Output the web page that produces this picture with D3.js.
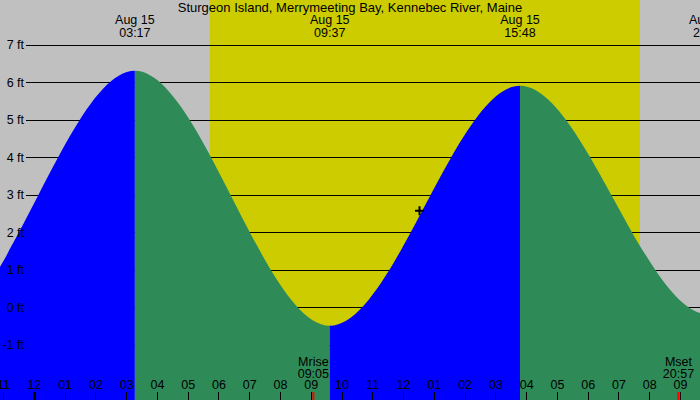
<!DOCTYPE html>
<html>
<head>
<meta charset="utf-8">
<script src="https://cdn.jsdelivr.net/npm/d3@7"></script>
<style>
body { margin: 0; background: #c0c0c0 }
svg { display: block }
</style>
</head>
<body>
<script>
let title = 'Sturgeon Island, Merrymeeting Bay, Kennebec River, Maine'
// tide extremes (first and last lie outside the view)
let tide_times = ['2024-08-14 14:40', '2024-08-14 20:57', '2024-08-15 03:17', '2024-08-15 09:37', '2024-08-15 15:48', '2024-08-15 21:56', '2024-08-16 04:10']
let tide_heights = [5.9, -0.45, 6.3, -0.5, 5.9, -0.2, 6.2]
let sun_times = ['2024-08-15 05:43', '2024-08-15 19:42']
let moon_times = ['2024-08-15 09:05', '2024-08-15 20:57']
let moon_names = ['Mrise', 'Mset']
let height_ticks = [-1, 0, 1, 2, 3, 4, 5, 6, 7]
let view_times = ['2024-08-14 22:54', '2024-08-15 21:39']
let marker_time = '2024-08-15 12:32'
let marker_height = 2.57

let x_size = 700
let y_size = 400
let axis_x = 26
let font = "'Liberation Sans', Arial, sans-serif"
let font_size = 12.5
let night_color = '#c0c0c0'
let day_color = '#cccc00'
let rise_color = '#0000ff'
let fall_color = '#2e8b57'
let moon_color = '#ff0000'

let parse = d3.timeParse('%Y-%m-%d %H:%M')
let fmt_day = d3.timeFormat('%b %d')
let fmt_time = d3.timeFormat('%H:%M')
let fmt_hour = d3.timeFormat('%I')

let x = d3.scaleTime()
    .domain(view_times.map(parse))
    .range([0, x_size])
let y = d3.scaleLinear()
    .domain([0, 7])
    .range([307, 44.5])

let tides = tide_times.map((t, i) => ({time: parse(t), height: tide_heights[i]}))

function makeCanvas() {
    let svg = d3.select('body')
        .append('svg')
        .attr('width', x_size)
        .attr('height', y_size)
        .style('font-family', font)
        .style('font-size', font_size + 'px')
    svg.append('rect')
        .attr('width', x_size)
        .attr('height', y_size)
        .attr('fill', night_color)
    let sun = sun_times.map(parse)
    svg.append('rect')
        .attr('x', x(sun[0]))
        .attr('y', 0)
        .attr('width', x(sun[1]) - x(sun[0]))
        .attr('height', y_size)
        .attr('fill', day_color)
    return svg
}

function drawGrid(svg) {
    let grid = svg.append('g')
        .attr('transform', `translate(${axis_x},0)`)
        .call(d3.axisLeft(y)
            .tickValues(height_ticks)
            .tickSize(-(x_size - axis_x))
            .tickFormat(''))
    grid.select('.domain').remove()
    grid.selectAll('line')
        .attr('stroke', 'black')
        .attr('shape-rendering', 'crispEdges')
}

function drawTide(svg) {
    let area = d3.area()
        .x(d => x(d.time))
        .y0(y_size)
        .y1(d => y(d.height))
        .curve(d3.curveMonotoneX)
    let defs = svg.append('defs')
    let segments = d3.pairs(tides)
    segments.forEach((p, i) => {
        defs.append('clipPath')
            .attr('id', 'seg' + i)
            .append('rect')
            .attr('x', x(p[0].time))
            .attr('y', 0)
            .attr('width', x(p[1].time) - x(p[0].time))
            .attr('height', y_size)
    })
    svg.selectAll('path.tide')
        .data(segments)
        .enter()
        .append('path')
        .attr('class', 'tide')
        .attr('d', area(tides))
        .attr('clip-path', (d, i) => `url(#seg${i})`)
        .attr('fill', d => d[1].height > d[0].height ? rise_color : fall_color)
}

function drawLabels(svg) {
    svg.append('text')
        .attr('x', x_size / 2)
        .attr('y', 12)
        .attr('text-anchor', 'middle')
        .style('font-size', '13px')
        .text(title)
    // only label the extremes that fall inside the picture
    let shown = tides.filter(d => x(d.time) >= 0 && x(d.time) <= x_size)
    let events = svg.selectAll('g.event')
        .data(shown)
        .enter()
        .append('g')
        .attr('class', 'event')
        .attr('transform', d => `translate(${x(d.time)},0)`)
        .attr('text-anchor', 'middle')
    events.append('text')
        .attr('y', 24)
        .text(d => fmt_day(d.time))
    events.append('text')
        .attr('y', 36.5)
        .text(d => fmt_time(d.time))
    // the next low sits just past the right edge, its label is cut as in the original
    let next = tides.find(d => x(d.time) > x_size)
    let cut = svg.append('g')
        .attr('transform', `translate(${x(next.time)},0)`)
        .attr('text-anchor', 'middle')
    cut.append('text')
        .attr('y', 24)
        .text(fmt_day(next.time))
    cut.append('text')
        .attr('y', 36.5)
        .text(fmt_time(next.time))

    let labels = svg.append('g')
        .attr('transform', `translate(${axis_x},0)`)
        .call(d3.axisLeft(y)
            .tickValues(height_ticks)
            .tickSize(0)
            .tickPadding(2)
            .tickFormat(d => `${d} ft`))
    labels.select('.domain').remove()
    labels.attr('font-family', null).attr('font-size', null)

    let hours = svg.append('g')
        .attr('transform', `translate(0,${y_size})`)
        .call(d3.axisTop(x)
            .ticks(d3.timeHour.every(1))
            .tickSize(8)
            .tickPadding(3)
            .tickFormat(fmt_hour))
    hours.select('.domain').remove()
    hours.attr('font-family', null).attr('font-size', null)
    hours.selectAll('line')
        .attr('stroke', 'black')
        .attr('stroke-width', d => d.getHours() == 0 ? 3 : 1)
        .attr('shape-rendering', 'crispEdges')

    let moons = svg.selectAll('g.moon')
        .data(moon_times.map((t, i) => ({time: parse(t), name: moon_names[i]})))
        .enter()
        .append('g')
        .attr('class', 'moon')
        .attr('transform', d => `translate(${x(d.time)},0)`)
    moons.append('line')
        .attr('y1', y_size - 8)
        .attr('y2', y_size)
        .attr('stroke', moon_color)
        .attr('stroke-width', 2)
    moons.append('text')
        .attr('y', 366)
        .attr('text-anchor', 'middle')
        .text(d => d.name)
    moons.append('text')
        .attr('y', 377.5)
        .attr('text-anchor', 'middle')
        .text(d => fmt_time(d.time))

    let mx = x(parse(marker_time))
    let my = y(marker_height)
    svg.append('path')
        .attr('d', `M${mx - 4.5},${my}H${mx + 4.5}M${mx},${my - 4.5}V${my + 4.5}`)
        .attr('stroke', 'black')
        .attr('stroke-width', 2)
}

window.onload = function() {
    let svg = makeCanvas()
    drawGrid(svg)
    drawTide(svg)
    drawLabels(svg)
}
</script>
</body>
</html>
